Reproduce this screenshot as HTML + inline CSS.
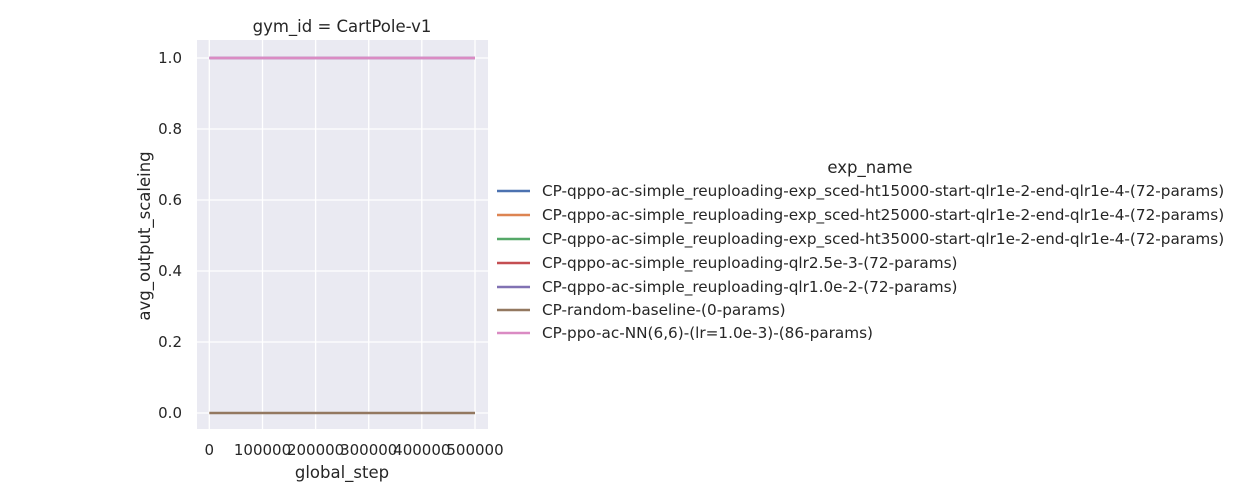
<!DOCTYPE html>
<html><head><style>body{margin:0;background:#fff}svg{display:block}text{font-family:"DejaVu Sans","Liberation Sans",sans-serif;fill:#262626}</style></head><body>
<svg width="1239" height="500" xmlns="http://www.w3.org/2000/svg">
<rect x="197" y="40" width="291" height="389" fill="#eaeaf2"/>
<g stroke="#fff" stroke-width="1.3">
<line x1="209.3" y1="40" x2="209.3" y2="429"/><line x1="262.5" y1="40" x2="262.5" y2="429"/><line x1="315.6" y1="40" x2="315.6" y2="429"/><line x1="368.7" y1="40" x2="368.7" y2="429"/><line x1="421.8" y1="40" x2="421.8" y2="429"/><line x1="475" y1="40" x2="475" y2="429"/>
<line x1="197" y1="58" x2="488" y2="58"/><line x1="197" y1="129" x2="488" y2="129"/><line x1="197" y1="200" x2="488" y2="200"/><line x1="197" y1="271" x2="488" y2="271"/><line x1="197" y1="342" x2="488" y2="342"/><line x1="197" y1="413" x2="488" y2="413"/>
</g>
<line x1="209.3" y1="58" x2="475" y2="58" stroke="#4c72b0" stroke-width="2.5"/>
<line x1="209.3" y1="58" x2="475" y2="58" stroke="#da8bc3" stroke-width="2.7"/>
<line x1="209.3" y1="413" x2="475" y2="413" stroke="#937860" stroke-width="2.5"/>
<g font-size="15" text-anchor="end">
<text x="182" y="63">1.0</text><text x="182" y="134">0.8</text><text x="182" y="205">0.6</text><text x="182" y="276">0.4</text><text x="182" y="347">0.2</text><text x="182" y="418">0.0</text>
</g>
<g font-size="15" text-anchor="middle">
<text x="209.3" y="455">0</text><text x="262.5" y="455">100000</text><text x="315.6" y="455">200000</text><text x="368.7" y="455">300000</text><text x="421.8" y="455">400000</text><text x="475" y="455">500000</text>
<text x="342" y="478" font-size="16.5">global_step</text>
<text x="342" y="32" font-size="16.5">gym_id = CartPole-v1</text>
<text x="870" y="173" font-size="16.5">exp_name</text>
</g>
<text transform="translate(150,236) rotate(-90)" font-size="16.5" text-anchor="middle">avg_output_scaleing</text>
<g stroke-width="2.5">
<line x1="497" y1="191" x2="530" y2="191" stroke="#4c72b0"/>
<line x1="497" y1="215" x2="530" y2="215" stroke="#dd8452"/>
<line x1="497" y1="239" x2="530" y2="239" stroke="#55a868"/>
<line x1="497" y1="263" x2="530" y2="263" stroke="#c44e52"/>
<line x1="497" y1="287" x2="530" y2="287" stroke="#8172b3"/>
<line x1="497" y1="310" x2="530" y2="310" stroke="#937860"/>
<line x1="497" y1="333" x2="530" y2="333" stroke="#da8bc3"/>
</g>
<g font-size="15.25">
<text x="542" y="196">CP-qppo-ac-simple_reuploading-exp_sced-ht15000-start-qlr1e-2-end-qlr1e-4-(72-params)</text>
<text x="542" y="220">CP-qppo-ac-simple_reuploading-exp_sced-ht25000-start-qlr1e-2-end-qlr1e-4-(72-params)</text>
<text x="542" y="244">CP-qppo-ac-simple_reuploading-exp_sced-ht35000-start-qlr1e-2-end-qlr1e-4-(72-params)</text>
<text x="542" y="268">CP-qppo-ac-simple_reuploading-qlr2.5e-3-(72-params)</text>
<text x="542" y="292">CP-qppo-ac-simple_reuploading-qlr1.0e-2-(72-params)</text>
<text x="542" y="315">CP-random-baseline-(0-params)</text>
<text x="542" y="338">CP-ppo-ac-NN(6,6)-(lr=1.0e-3)-(86-params)</text>
</g>
</svg>
</body></html>
